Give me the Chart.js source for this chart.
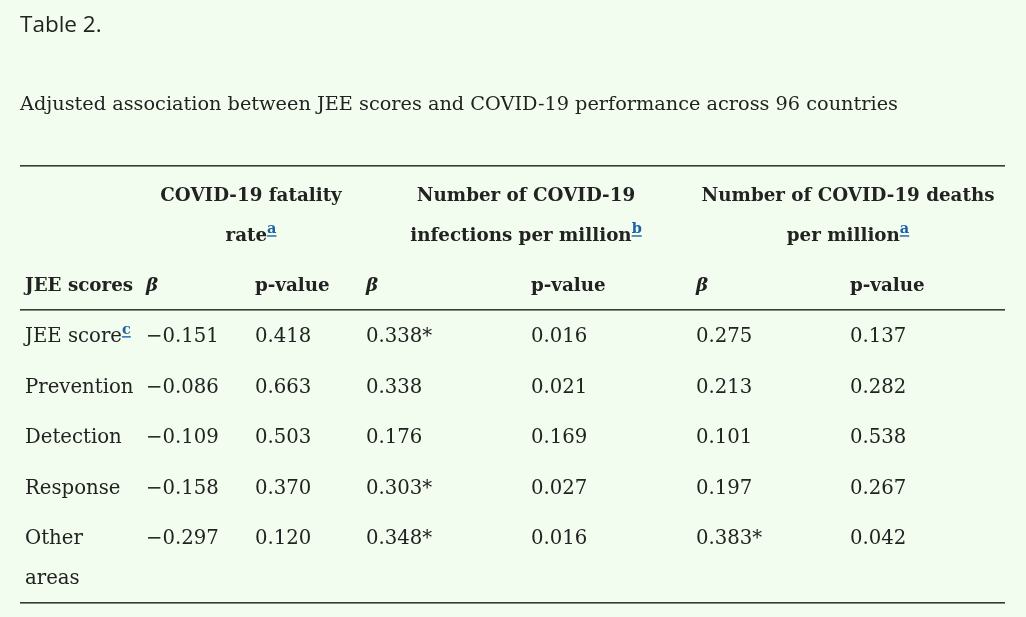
<!DOCTYPE html>
<html>
<head>
<meta charset="utf-8">
<script src="https://cdn.jsdelivr.net/npm/chart.js@4"></script>
<style>
  html, body { margin: 0; padding: 0; background: #f2fdef; }
  #wrap { width: 1026px; height: 617px; position: relative; }
</style>
</head>
<body>
<div id="wrap"><canvas id="tableChart"></canvas></div>
<script>
// table content
const rowLabels = ['JEE score', 'Prevention', 'Detection', 'Response', 'Other areas'];
const rowNotes = ['c', '', '', '', ''];
const groupHeaders = [['COVID-19 fatality', 'rate'], ['Number of COVID-19', 'infections per million'], ['Number of COVID-19 deaths', 'per million']];
const groupNotes = ['a', 'b', 'a'];
const subHeaders = ['JEE scores', 'β', 'p-value', 'β', 'p-value', 'β', 'p-value'];

const fatalityBeta = [-0.151, -0.086, -0.109, -0.158, -0.297];
const fatalityP = [0.418, 0.663, 0.503, 0.370, 0.120];
const infectionsBeta = [0.338, 0.338, 0.176, 0.303, 0.348];
const infectionsStar = [true, false, false, true, true];
const infectionsP = [0.016, 0.021, 0.169, 0.027, 0.016];
const deathsBeta = [0.275, 0.213, 0.101, 0.197, 0.383];
const deathsStar = [false, false, false, false, true];
const deathsP = [0.137, 0.282, 0.538, 0.267, 0.042];

// layout (column edges in table units, rule rows in row units)
const colEdges = [0, 121, 230, 341, 506, 671, 825, 985];
const rules = [-3.39, -0.53, 5.27];
const ink = '#222222';
const noteBlue = '#1b62a8';
const serif = '"DejaVu Serif", serif';
const bodyFont = '19.7px ' + serif;
const headFont = 'bold 18.3px ' + serif;
const noteFont = 'bold 14.5px ' + serif;

const fmt = (v, star) => (v < 0 ? '\u2212' : '') + Math.abs(v).toFixed(3) + (star ? '*' : '');

const columns = [
  rowLabels,
  fatalityBeta.map(v => fmt(v)),
  fatalityP.map(v => fmt(v)),
  infectionsBeta.map((v, i) => fmt(v, infectionsStar[i])),
  infectionsP.map(v => fmt(v)),
  deathsBeta.map((v, i) => fmt(v, deathsStar[i])),
  deathsP.map(v => fmt(v))
];

const datasets = columns.map((col, c) => ({
  label: subHeaders[c],
  data: col.map((t, i) => ({ x: colEdges[c], y: i })),
  cellText: col,
  pointRadius: 0,
  pointHoverRadius: 0
}));

// superscript footnote link, y = middle of the text line it follows
function drawNote(ctx, note, x, y) {
  ctx.font = noteFont;
  ctx.fillStyle = noteBlue;
  ctx.textAlign = 'left';
  ctx.textBaseline = 'alphabetic';
  ctx.fillText(note, x, y - 3);
  const w = ctx.measureText(note).width;
  ctx.fillRect(x, y - 1, w, 1.4);
  return w;
}

function wrapText(ctx, text, maxW) {
  const words = text.split(' ');
  const lines = [];
  let cur = '';
  words.forEach(w => {
    const test = cur ? cur + ' ' + w : w;
    if (cur && ctx.measureText(test).width > maxW) { lines.push(cur); cur = w; }
    else cur = test;
  });
  lines.push(cur);
  return lines;
}

const tablePlugin = {
  id: 'tableCells',
  afterDatasetsDraw(chart) {
    const ctx = chart.ctx;
    const xs = chart.scales.x, ys = chart.scales.y;
    const area = chart.chartArea;
    ctx.save();

    // rules
    ctx.fillStyle = '#3a3a3a';
    rules.forEach(r => {
      const py = Math.round(ys.getPixelForValue(r));
      ctx.fillRect(area.left, py - 1, area.right - area.left, 1.6);
    });

    // group headers
    groupHeaders.forEach((lines, g) => {
      const cx = xs.getPixelForValue((colEdges[1 + g * 2] + colEdges[3 + g * 2]) / 2);
      lines.forEach((line, k) => {
        const py = ys.getPixelForValue(-2.8 + k * 0.8);
        let nw = 0;
        if (k === lines.length - 1) {
          ctx.font = noteFont;
          nw = ctx.measureText(groupNotes[g]).width;
        }
        ctx.font = headFont;
        const w = ctx.measureText(line).width;
        const x0 = cx - (w + nw) / 2;
        ctx.fillStyle = ink;
        ctx.textAlign = 'left';
        ctx.textBaseline = 'middle';
        ctx.fillText(line, x0, py);
        if (nw) drawNote(ctx, groupNotes[g], x0 + w, py);
      });
    });

    // sub headers
    subHeaders.forEach((h, c) => {
      const px = xs.getPixelForValue(colEdges[c]) + 5;
      const py = ys.getPixelForValue(-1);
      ctx.font = h === 'β' ? 'italic ' + headFont : headFont;
      ctx.fillStyle = ink;
      ctx.textAlign = 'left';
      ctx.textBaseline = 'middle';
      ctx.fillText(h, px, py);
    });

    // body cells
    const step = ys.getPixelForValue(0.8) - ys.getPixelForValue(0);
    chart.data.datasets.forEach((ds, c) => {
      const meta = chart.getDatasetMeta(c);
      const colW = xs.getPixelForValue(colEdges[c + 1]) - xs.getPixelForValue(colEdges[c]);
      meta.data.forEach((pt, i) => {
        ctx.font = bodyFont;
        const lines = c === 0 ? wrapText(ctx, ds.cellText[i], colW - 8) : [ds.cellText[i]];
        lines.forEach((line, k) => {
          ctx.font = bodyFont;
          ctx.fillStyle = ink;
          ctx.textAlign = 'left';
          ctx.textBaseline = 'middle';
          ctx.fillText(line, pt.x + 5, pt.y + k * step);
          if (c === 0 && rowNotes[i] && k === lines.length - 1) {
            const w = ctx.measureText(line).width;
            drawNote(ctx, rowNotes[i], pt.x + 5 + w, pt.y);
          }
        });
      });
    });
    ctx.restore();
  }
};

new Chart(document.getElementById('tableChart').getContext('2d'), {
  type: 'scatter',
  data: { datasets: datasets },
  options: {
    responsive: true,
    maintainAspectRatio: false,
    animation: false,
    events: [],
    layout: { padding: { left: 20, right: 21, top: 0, bottom: 14 } },
    plugins: {
      legend: { display: false },
      tooltip: { enabled: false },
      title: {
        display: true,
        text: 'Table 2.',
        align: 'start',
        color: ink,
        font: { family: '"Open Sans", sans-serif', size: 22.5, weight: 'normal', lineHeight: 1.2 },
        padding: { top: 12, bottom: 54 }
      },
      subtitle: {
        display: true,
        text: 'Adjusted association between JEE scores and COVID-19 performance across 96 countries',
        align: 'start',
        color: ink,
        font: { family: serif, size: 19.3, lineHeight: 1.2 },
        padding: { top: 0, bottom: 50 }
      }
    },
    scales: {
      x: { type: 'linear', display: false, min: colEdges[0], max: colEdges[colEdges.length - 1] },
      y: { type: 'linear', display: false, reverse: true, min: rules[0], max: rules[rules.length - 1] }
    }
  },
  plugins: [tablePlugin]
});
</script>
</body>
</html>
